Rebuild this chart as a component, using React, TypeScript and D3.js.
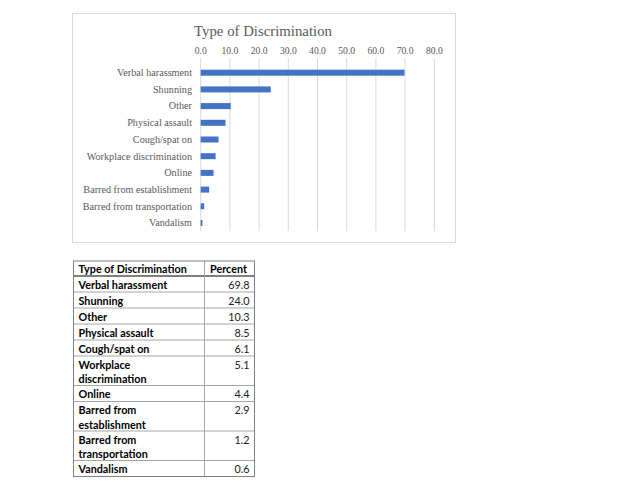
import React from "react";
import * as d3 from "d3";

const categories = [
  "Verbal harassment",
  "Shunning",
  "Other",
  "Physical assault",
  "Cough/spat on",
  "Workplace discrimination",
  "Online",
  "Barred from establishment",
  "Barred from transportation",
  "Vandalism",
];
const percents = [69.8, 24.0, 10.3, 8.5, 6.1, 5.1, 4.4, 2.9, 1.2, 0.6];
const xTicks = [0, 10, 20, 30, 40, 50, 60, 70, 80];
const tableLabels = [
  ["Verbal harassment"],
  ["Shunning"],
  ["Other"],
  ["Physical assault"],
  ["Cough/spat on"],
  ["Workplace", "discrimination"],
  ["Online"],
  ["Barred from", "establishment"],
  ["Barred from", "transportation"],
  ["Vandalism"],
];
const tableHeader = ["Type of Discrimination", "Percent"];

const serif = "'Liberation Serif', 'DejaVu Serif', serif";
const sans = "Lato, 'Liberation Sans', sans-serif";
const textColor = "#595959";

export default function App() {
  const x = d3.scaleLinear().domain([0, 80]).range([200.7, 434.3]);
  const y = d3.scalePoint<string>().domain(categories).range([64.35, 231.35]).padding(0.5);
  const barH = 6;

  const tLeft = 73.5, tRight = 254.5, tDiv = 204.5;
  const tTop = 261, headerH = 15, singleH = 16, doubleH = 29.5;
  const rows: { top: number; h: number }[] = [];
  let cur = tTop + headerH;
  tableLabels.forEach((l) => {
    const h = l.length > 1 ? doubleH : singleH;
    rows.push({ top: cur, h });
    cur += h;
  });
  const tBottom = cur;

  return (
    <svg width={640} height={490} style={{ position: "absolute", left: 0, top: 0, background: "#fff" }}>
      <rect x={72.5} y={13.5} width={383} height={229} fill="#fff" stroke="#d9d9d9" />
      <text x={263} y={36} textAnchor="middle" fontFamily={serif} fontSize={14.8} fill={textColor}>
        Type of Discrimination
      </text>
      {xTicks.map((t) => (
        <g key={t}>
          <line x1={x(t)} x2={x(t)} y1={58} y2={231} stroke="#d9d9d9" strokeWidth={1} />
          <text x={x(t)} y={54} textAnchor="middle" fontFamily={serif} fontSize={9.6} fill={textColor}>
            {d3.format(".1f")(t)}
          </text>
        </g>
      ))}
      {categories.map((c, i) => (
        <g key={c}>
          <rect x={x(0)} y={(y(c) as number) - barH / 2} width={x(percents[i]) - x(0)} height={barH} fill="#4472C4" />
          <text x={192} y={(y(c) as number) + 3.3} textAnchor="end" fontFamily={serif} fontSize={10.2} fill={textColor}>
            {c}
          </text>
        </g>
      ))}

      <g fontFamily={sans} fontSize={10.8} fill="#000">
        <text x={tLeft + 5} y={tTop + 11.5} fontWeight={700}>{tableHeader[0]}</text>
        <text x={tDiv + 5.5} y={tTop + 11.5} fontWeight={700}>{tableHeader[1]}</text>
        {rows.map((r, i) => (
          <g key={i}>
            {tableLabels[i].map((line, j) => (
              <text key={j} x={tLeft + 5} y={r.top + 12.5 + j * 14.5} fontWeight={700}>{line}</text>
            ))}
            <text x={tRight - 5} y={r.top + 12.5} textAnchor="end" fill="#222">
              {d3.format(".1f")(percents[i])}
            </text>
            <line x1={tLeft} x2={tRight} y1={r.top + r.h} y2={r.top + r.h} stroke="#a6a6a6" />
          </g>
        ))}
        <line x1={tLeft} x2={tRight} y1={tTop + headerH} y2={tTop + headerH} stroke="#555" strokeWidth={1.3} />
        <line x1={tDiv} x2={tDiv} y1={tTop} y2={tBottom} stroke="#a6a6a6" />
        <rect x={tLeft} y={tTop} width={tRight - tLeft} height={tBottom - tTop} fill="none" stroke="#7f7f7f" />
      </g>
    </svg>
  );
}
